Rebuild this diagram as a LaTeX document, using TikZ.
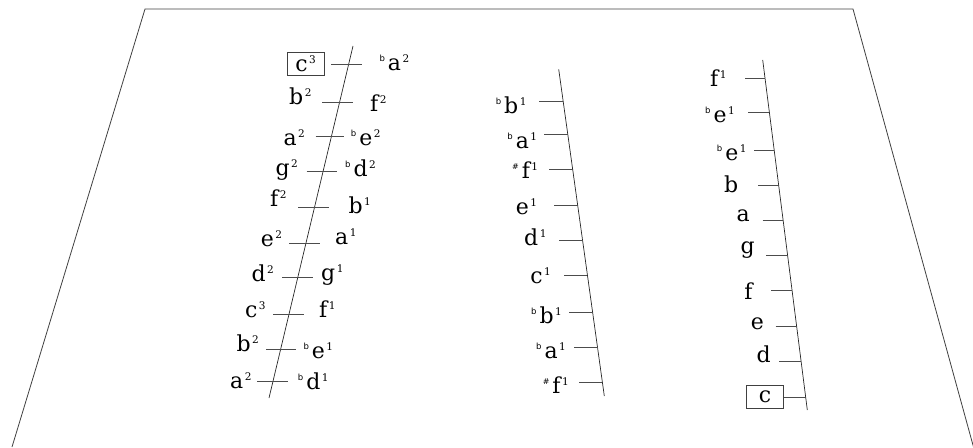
\documentclass[tikz,border=0pt]{standalone}
\usepackage{fontspec}
\setmainfont{DejaVu Serif}
\setsansfont{DejaVu Sans}
\newcommand{\hi}[1]{\kern1.5pt\raisebox{7.8pt}{\fontsize{10.5}{10.5}\selectfont #1}}
\newcommand{\fl}{\raisebox{8.8pt}{\fontsize{8.5}{8.5}\sffamily b}\kern3pt}
\newcommand{\sh}{\raisebox{8.8pt}{\fontsize{8}{8}\sffamily\#}\kern3pt}
\begin{document}
\begin{tikzpicture}[x=1pt,y=-1pt,
  lab/.style={inner sep=0pt, font=\fontsize{22}{22}\selectfont},
  lft/.style={lab, anchor=base east},
  rgt/.style={lab, anchor=base west},
  staff/.style={line width=0.7pt, black!85},
  tick/.style={line width=0.7pt, black!70},
  frame/.style={line width=0.8pt, black!75},
  nbox/.style={draw=black!75, line width=0.7pt, minimum width=37pt, minimum height=22.5pt, inner sep=0pt, font=\fontsize{22}{22}\selectfont}]
\useasboundingbox (0,0) rectangle (973,447);
% frame
\coordinate (fbl) at (12,447);
\coordinate (ftl) at (145,9);
\coordinate (ftr) at (853,9);
\coordinate (fbr) at (973.5,447);
\draw[frame] (fbl) -- (ftl) -- (ftr) -- (fbr);

% ---------- column 1 ----------
\coordinate (s1a) at (353,46);
\coordinate (s1b) at (269,398);
\draw[staff] (s1a) -- (s1b);
\foreach \y/\xa/\xb in {64.3/331/361.7, 102.7/322.3/352.7, 136.7/315.7/344, 171/306.7/337.3, 207.3/298.3/329, 243.3/289.3/320, 277.7/282.3/312.7, 314.3/273.3/304.3, 349/266/296, 381.7/257.3/287.7}
  \draw[tick] (\xa,\y) -- (\xb,\y);
\node[nbox] (b1) at (305.5,63.8) {c\hi{3}};
\node[lft] (l1b) at (311.7,104) {b\hi{2}};
\node[lft] (l1c) at (305,145) {a\hi{2}};
\node[lft] (l1d) at (298,175) {g\hi{2}};
\node[lft] (l1e) at (286.7,206.7) {f\hi{2}};
\node[lft] (l1f) at (282.3,246) {e\hi{2}};
\node[lft] (l1g) at (274,281) {d\hi{2}};
\node[lft] (l1h) at (265.7,317.7) {c\hi{3}};
\node[lft] (l1i) at (259,351.7) {b\hi{2}};
\node[lft] (l1j) at (251.7,388.3) {a\hi{2}};
\node[rgt] (r1a) at (379.3,70.7) {\fl a\hi{2}};
\node[rgt] (r1b) at (370,111.7) {f\hi{2}};
\node[rgt] (r1c) at (350.7,145) {\fl e\hi{2}};
\node[rgt] (r1d) at (345,176) {\fl d\hi{2}};
\node[rgt] (r1e) at (348.3,213.3) {b\hi{1}};
\node[rgt] (r1f) at (335,244) {a\hi{1}};
\node[rgt] (r1g) at (321,280) {g\hi{1}};
\node[rgt] (r1h) at (319,317.7) {f\hi{1}};
\node[rgt] (r1i) at (303.3,358.3) {\fl e\hi{1}};
\node[rgt] (r1j) at (297.7,389.3) {\fl d\hi{1}};

% ---------- column 2 ----------
\coordinate (s2a) at (558.7,69.3);
\coordinate (s2b) at (604.3,396);
\draw[staff] (s2a) -- (s2b);
\foreach \y/\xa/\xb in {101/539.3/563.1, 134/544/567.7, 169/549/572.6, 205/554.3/577.6, 240.7/559.3/582.6, 275/564.3/587.4, 312.3/569.3/592.6, 347.7/574.3/597.6, 382.3/579/602.4}
  \draw[tick] (\xa,\y) -- (\xb,\y);
\node[lft] (l2a) at (526.7,113.3) {\fl b\hi{1}};
\node[lft] (l2b) at (537.3,148.3) {\fl a\hi{1}};
\node[lft] (l2c) at (538.3,178.3) {\sh f\hi{1}};
\node[lft] (l2d) at (537.3,214) {e\hi{1}};
\node[lft] (l2e) at (546.7,245.7) {d\hi{1}};
\node[lft] (l2f) at (551,283.3) {c\hi{1}};
\node[lft] (l2g) at (562,323.3) {\fl b\hi{1}};
\node[lft] (l2h) at (566,358.3) {\fl a\hi{1}};
\node[lft] (l2i) at (569,393.3) {\sh f\hi{1}};

% ---------- column 3 ----------
\coordinate (s3a) at (762.7,60);
\coordinate (s3b) at (807.3,410);
\draw[staff] (s3a) -- (s3b);
\foreach \y/\xa/\xb in {78.3/745/765, 112.7/748.3/769.4, 150/754/774.2, 185/758.3/778.6, 220/762.7/783.1, 255/766/787.5, 290.7/771/792.1, 326.7/775.7/796.7, 361/779.3/801.1}
  \draw[tick] (\xa,\y) -- (\xb,\y);
\node[lft] (l3a) at (726.7,86.7) {f\hi{1}};
\node[lft] (l3b) at (735,122.7) {\fl e\hi{1}};
\node[lft] (l3c) at (746.7,160) {\fl e\hi{1}};
\node[lft] (l3d) at (738.3,192.7) {b};
\node[lft] (l3e) at (750,221.7) {a};
\node[lft] (l3f) at (755,253.3) {g};
\node[lft] (l3g) at (752.7,299.3) {f};
\node[lft] (l3h) at (764,329.3) {e};
\node[lft] (l3i) at (771,362.7) {d};
\node[nbox] (b3) at (765,397) {c};
\draw[tick] (b3.east) -- ++(22.3,0);
\end{tikzpicture}
\end{document}
